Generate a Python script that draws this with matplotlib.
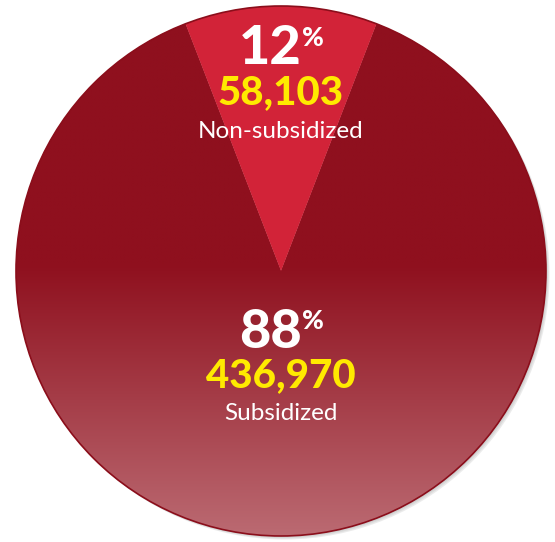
import numpy as np
import matplotlib
matplotlib.use('Agg')
import matplotlib.pyplot as plt
from matplotlib.patches import Circle
from matplotlib.colors import to_rgb

# Daten
labels = ['Non-subsidized', 'Subsidized']
werte = [58103, 436970]
prozent = ['12', '88']
farben = ['#D22338', '#8F101E']

plt.rcParams['font.family'] = ['Lato', 'DejaVu Sans']

fig = plt.figure(figsize=(5.55, 5.42), dpi=100)
ax = fig.add_axes([0, 0, 1, 1])

cx, cy, r = 281, 271, 265

# Schatten
for i, a in enumerate([0.10, 0.10, 0.12]):
    ax.add_patch(Circle((cx + 1.5 + i, cy + 1.5 + i), r, color='#606060',
                        alpha=a, lw=0, zorder=0))

# Tortendiagramm, kleines Stück oben zentriert
start = 270 - 360 * werte[0] / sum(werte) / 2
wedges, _ = ax.pie(werte, colors=farben, startangle=start, center=(cx, cy),
                   radius=r, counterclock=True, frame=True,
                   wedgeprops=dict(lw=0))
ax.set_xlim(0, 555)
ax.set_ylim(542, 0)
ax.set_aspect('equal')
ax.axis('off')

# Farbverlauf im großen Stück
oben = np.array(to_rgb('#8F101E'))
unten = np.array(to_rgb('#BB6A72'))
ys = np.linspace(cy - r, cy + r, 400)
t = np.clip((ys - 265) / (cy + r - 265), 0, 1)
grad = oben[None, :] * (1 - t[:, None]) + unten[None, :] * t[:, None]
img = np.repeat(grad[:, None, :], 2, axis=1)
im = ax.imshow(img, extent=(cx - r, cx + r, cy + r, cy - r), aspect='auto',
               zorder=2, interpolation='bilinear')
im.set_clip_path(wedges[1])
wedges[0].set_zorder(3)

# Rand
ax.add_patch(Circle((cx, cy), r, fill=False, ec='#8B0E1B', lw=1.2, zorder=4))

# Beschriftungen
textpos = [(49, 93, 131), (332, 376, 414)]
for i in range(2):
    y1, y2, y3 = textpos[i]
    ax.text(cx + 21, y1, prozent[i], ha='right', va='center',
            color='white', fontsize=39, fontweight='black', zorder=5)
    ax.text(cx + 21, y1 - 11, '%', ha='left', va='center', color='white',
            fontsize=19, fontweight='black', zorder=5)
    ax.text(cx, y2, f'{werte[i]:,}', ha='center', va='center',
            color='#FFEA00', fontsize=29, fontweight='black', zorder=5)
    ax.text(cx, y3, labels[i], ha='center', va='center', color='white',
            fontsize=17.5, zorder=5)

fig.savefig('out.png', dpi=100)
